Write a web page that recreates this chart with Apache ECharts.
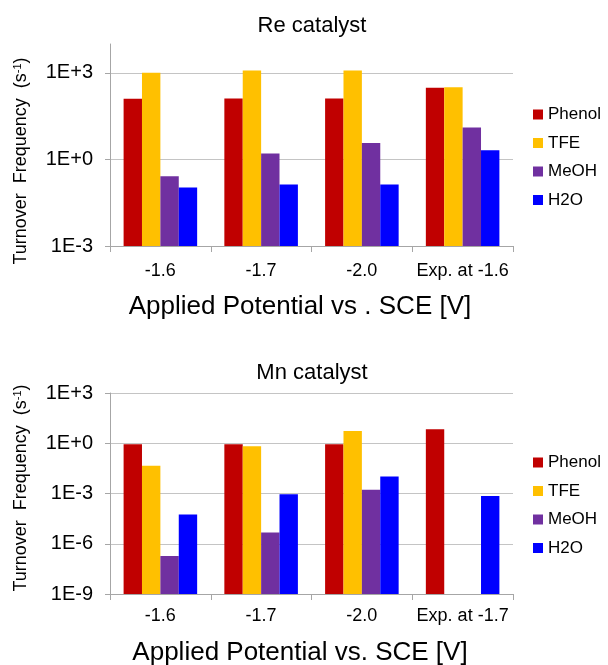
<!DOCTYPE html>
<html>
<head>
<meta charset="utf-8">
<script src="https://cdn.jsdelivr.net/npm/echarts@6/dist/echarts.min.js"></script>
<style>
html,body{margin:0;padding:0;background:#fff;}
#chart{width:608px;height:665px;}
</style>
</head>
<body>
<div id="chart"></div>
<script>
// ---- data ----
const seriesNames = ['Phenol', 'TFE', 'MeOH', 'H2O'];
const categoriesRe = ['-1.6', '-1.7', '-2.0', 'Exp. at -1.6'];
const categoriesMn = ['-1.6', '-1.7', '-2.0', 'Exp. at -1.7'];

const rePhenol = [126, 129, 129, 302];
const reTFE    = [1000, 1200, 1200, 316];
const reMeOH   = [0.26, 1.6, 3.7, 12.8];
const reH2O    = [0.107, 0.136, 0.136, 2.1];

const mnPhenol = [0.87, 0.87, 0.87, 6.8];
const mnTFE    = [0.045, 0.66, 5.4, null];
const mnMeOH   = [1.85e-7, 4.7e-6, 1.65e-3, null];
const mnH2O    = [5.6e-5, 9.1e-4, 0.0102, 7.2e-4];

const reTicks = [1e-3, 1, 1e3];
const mnTicks = [1e-9, 1e-6, 1e-3, 1, 1e3];

const titleRe = 'Re catalyst';
const titleMn = 'Mn catalyst';
const xNameRe = 'Applied Potential vs . SCE [V]';
const xNameMn = 'Applied Potential vs. SCE [V]';
const yName = 'Turnover  Frequency  (s{sup|-1})';

// ---- styling ----
const FONT = '"Liberation Sans", Arial, sans-serif';
const colors = ['#C00000', '#FFC000', '#7030A0', '#0000FF'];
const axisColor = '#A6A6A6';
const gridColor = '#C4C4C4';

function fmtExp(v) {
  const l = Math.log10(v);
  const e = Math.round(l);
  if (Math.abs(l - e) > 0.01) return '';
  return '1E' + (e >= 0 ? '+' : '') + e;
}

function xAxisCfg(idx, cats, margin) {
  return {
    type: 'category', gridIndex: idx, data: cats,
    axisLine: {show: true, lineStyle: {color: axisColor, width: 1}},
    axisTick: {show: true, length: 6, lineStyle: {color: axisColor}},
    axisLabel: {interval: 0, fontSize: 18, fontFamily: FONT, color: '#000', margin: margin},
    splitLine: {show: false}
  };
}
function yAxisCfg(idx, min, max, ticks) {
  return {
    type: 'log', logBase: 10, gridIndex: idx, min: min, max: max, startValue: min, interval: 3,
    axisLine: {show: true, lineStyle: {color: axisColor, width: 1}},
    axisTick: {show: true, length: 5, lineStyle: {color: axisColor}, customValues: ticks},
    axisLabel: {fontSize: 20, fontFamily: FONT, color: '#000', margin: 17,
      formatter: fmtExp, customValues: ticks},
    splitLine: {show: true, lineStyle: {color: gridColor, width: 1}}
  };
}
function legendCfg(top) {
  return {
    data: seriesNames, orient: 'vertical', left: 533, top: top, padding: 0,
    icon: 'rect', itemWidth: 10, itemHeight: 10, itemGap: 11.5,
    textStyle: {fontSize: 17, fontFamily: FONT, color: '#000'},
    selectedMode: false
  };
}
function barSeries(name, data, i, axisIdx) {
  return {
    type: 'bar', name: name, data: data,
    xAxisIndex: axisIdx, yAxisIndex: axisIdx,
    barGap: '0%', barCategoryGap: '27%',
    itemStyle: {color: colors[i]},
    animation: false
  };
}
function textEl(text, x, y, size, rot) {
  return {
    type: 'text', x: x, y: y, rotation: rot || 0,
    style: {
      text: text, fontSize: size, fontFamily: FONT, fill: '#000',
      textAlign: 'center', textVerticalAlign: 'middle',
      rich: {sup: {fontSize: 11, fontFamily: FONT, fill: '#000', verticalAlign: 'top'}}
    }
  };
}

const chart = echarts.init(document.getElementById('chart'), null, {renderer: 'canvas'});
chart.setOption({
  backgroundColor: '#fff',
  animation: false,
  grid: [
    {left: 110, top: 44, width: 403, height: 202, containLabel: false},
    {left: 110, top: 393, width: 403, height: 201, containLabel: false}
  ],
  xAxis: [xAxisCfg(0, categoriesRe, 16), xAxisCfg(1, categoriesMn, 13)],
  yAxis: [yAxisCfg(0, 1e-3, 1e4, reTicks), yAxisCfg(1, 1e-9, 1e3, mnTicks)],
  legend: [legendCfg(106), legendCfg(454)],
  series: [
    barSeries('Phenol', rePhenol, 0, 0),
    barSeries('TFE', reTFE, 1, 0),
    barSeries('MeOH', reMeOH, 2, 0),
    barSeries('H2O', reH2O, 3, 0),
    barSeries('Phenol', mnPhenol, 0, 1),
    barSeries('TFE', mnTFE, 1, 1),
    barSeries('MeOH', mnMeOH, 2, 1),
    barSeries('H2O', mnH2O, 3, 1)
  ],
  graphic: [
    textEl(titleRe, 312, 26, 22),
    textEl(titleMn, 312, 373, 22),
    textEl(xNameRe, 300, 307, 26),
    textEl(xNameMn, 300, 653, 26),
    textEl(yName, 21, 161, 18, Math.PI / 2),
    textEl(yName, 21, 488, 18, Math.PI / 2)
  ]
});
</script>
</body>
</html>
